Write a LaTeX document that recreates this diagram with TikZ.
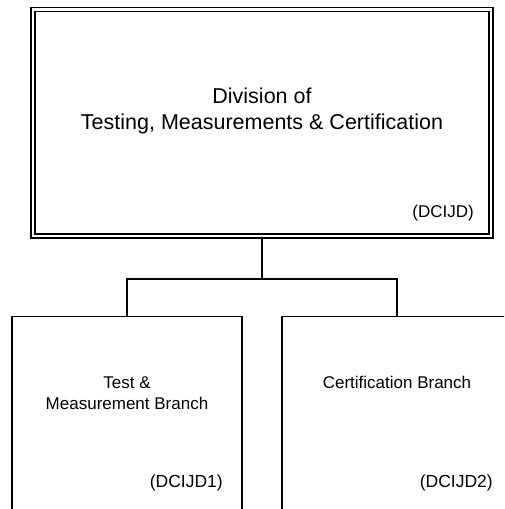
\documentclass[tikz,border=0pt]{standalone}
\usepackage{fontspec}
\setmainfont{Liberation Sans}
\usetikzlibrary{positioning}

\begin{document}
\begin{tikzpicture}
  [x=1pt,y=1pt,
   division/.style={
    draw,
    double,
    double distance=2.6pt,
    line width=1.3pt,
    outer sep=2.6pt,
    inner sep=0pt,
    minimum width=458pt,
    minimum height=226.25pt
    },
   branch/.style={
    draw,
    line width=1.4pt,
    outer sep=0pt,
    inner sep=0pt,
    minimum width=230pt,
    minimum height=220pt
    },
   title/.style={align=center, inner sep=0pt, font=\fontsize{21.5}{26}\selectfont},
   branchtitle/.style={align=center, inner sep=0pt, font=\fontsize{17}{21}\selectfont},
   code/.style={inner sep=0pt, font=\fontsize{#1}{20}\selectfont},
   link/.style={line width=1.4pt}
  ]
  \useasboundingbox (0,0) rectangle (504,-509);
  \clip (0,0) rectangle (504,-509);

  % the division
  \node[division] (division) at (262,-122.9) {};
  \node[title, below=121.85pt of division.north, anchor=base] (divisiontitle)
    {Division of\\Testing, Measurements \& Certification};
  \node[code=17, above left=21.6pt and 19.6pt of division.south east, anchor=base east] (divisioncode) {(DCIJD)};

  \coordinate[below=40.5pt of division.south] (fork);

  % the two branches
  \node[branch, below left=37.4pt and 135pt of fork, anchor=north] (testbranch) {};
  \node[branchtitle, below=92.5pt of testbranch.north, anchor=base] (testtitle)
    {Test \&\\Measurement Branch};
  \node[code=17.5, below left=170.5pt and 19pt of testbranch.north east, anchor=base east] (testcode) {(DCIJD1)};

  \node[branch, below right=37.4pt and 135pt of fork, anchor=north] (certbranch) {};
  \node[branchtitle, below=71.5pt of certbranch.north, anchor=base] (certtitle)
    {Certification Branch};
  \node[code=17.5, below left=170.5pt and 19pt of certbranch.north east, anchor=base east] (certcode) {(DCIJD2)};

  \draw[link] (division.south) -- (fork);
  \draw[link] (fork) -| (testbranch.north);
  \draw[link] (fork) -| (certbranch.north);
\end{tikzpicture}
\end{document}
